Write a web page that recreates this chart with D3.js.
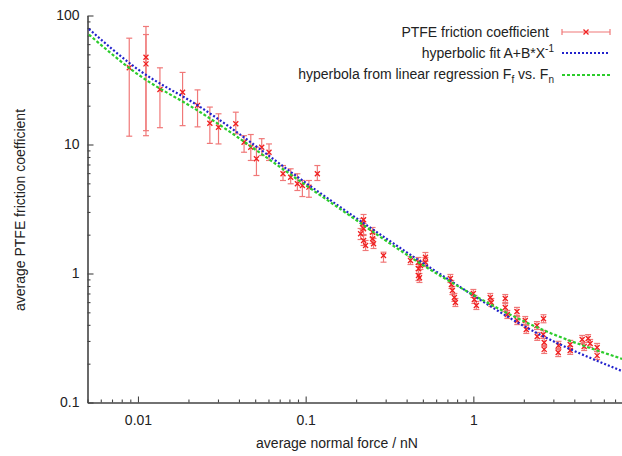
<!DOCTYPE html>
<html>
<head>
<meta charset="utf-8">
<script src="https://cdn.jsdelivr.net/npm/d3@7"></script>
<style>
  body { margin: 0; background: #fff; }
  text { font-family: "Liberation Sans", Arial, sans-serif; fill: #222; }
</style>
</head>
<body>
<script>
// measured points: average normal force (nN) and average friction coefficient
const force = [
  0.00887, 0.01116, 0.01116, 0.01352, 0.01845, 0.02266,
  0.02683, 0.03022, 0.03831, 0.04292, 0.04707, 0.05087, 0.0547, 0.06046,
  0.07326, 0.0814, 0.08925, 0.09559, 0.1046, 0.1174,
  0.2215, 0.2184, 0.2215, 0.2126, 0.2215, 0.2277, 0.2505, 0.2505, 0.254, 0.2912,
  0.4217, 0.4707, 0.4707, 0.4707, 0.4772, 0.5179, 0.5179, 0.4838,
  0.7297, 0.7398, 0.7499, 0.7707, 0.7814, 1.0, 1.014, 1.042, 1.262, 1.28,
  1.55, 1.55, 1.594, 1.82, 1.828, 2.04, 2.068, 2.394, 2.404,
  2.621, 2.61, 2.646, 2.646, 3.22, 3.206, 3.78, 3.78, 4.456, 4.58, 4.836, 4.971, 5.472, 5.472
];
const friction = [
  39.3, 47.5, 42.2, 26.7, 25.4, 20.1,
  14.6, 13.6, 14.5, 10.4, 9.53, 7.75, 9.53, 8.71,
  5.93, 5.58, 4.96, 4.81, 4.67, 5.93,
  2.608, 2.428, 2.221, 2.031, 1.803, 1.649, 2.09, 1.858, 1.7, 1.379,
  1.261, 1.224, 1.087, 0.965, 0.926, 1.338, 1.224, 1.153,
  0.915, 0.822, 0.738, 0.652, 0.596, 0.7, 0.629, 0.565, 0.652, 0.596,
  0.64, 0.545, 0.481, 0.508, 0.432, 0.432, 0.368, 0.395, 0.325,
  0.446, 0.337, 0.292, 0.258, 0.277, 0.244, 0.282, 0.253, 0.308, 0.272, 0.313, 0.287, 0.267, 0.231
];
const frictionLo = [
  11.6, 12.8, 11.7, 13.5, 14.0, 13.7,
  10.2, 10.1, 12.1, 8.71, 7.52, 5.75, 8.22, 7.52,
  5.26, 4.96, 4.40, 3.95, 3.90, 5.26,
  2.355, 2.193, 2.006, 1.834, 1.649, 1.508, 1.901, 1.709, 1.563, 1.224,
  1.174, 1.133, 1.0, 0.882, 0.852, 1.239, 1.133, 1.074,
  0.852, 0.765, 0.687, 0.607, 0.555, 0.652, 0.586, 0.526, 0.607, 0.555,
  0.596, 0.507, 0.448, 0.473, 0.402, 0.402, 0.343, 0.368, 0.303,
  0.415, 0.314, 0.272, 0.24, 0.258, 0.227, 0.262, 0.236, 0.287, 0.253, 0.292, 0.267, 0.249, 0.215
];
const frictionHi = [
  66.7, 82.2, 71.2, 39.3, 36.2, 26.5,
  19.5, 17.3, 17.8, 11.7, 11.95, 9.53, 11.1, 10.1,
  6.87, 6.48, 5.93, 5.26, 5.26, 6.87,
  2.867, 2.669, 2.441, 2.233, 1.97, 1.803, 2.273, 2.042, 1.868, 1.463,
  1.354, 1.331, 1.174, 1.055, 1.0, 1.455, 1.331, 1.239,
  0.983, 0.883, 0.793, 0.7, 0.64, 0.752, 0.676, 0.607, 0.7, 0.64,
  0.687, 0.585, 0.517, 0.546, 0.464, 0.464, 0.395, 0.424, 0.349,
  0.479, 0.362, 0.314, 0.277, 0.298, 0.262, 0.303, 0.272, 0.331, 0.292, 0.336, 0.308, 0.287, 0.248
];

// fit curves
const fitForce      = [0.0051, 0.0096, 0.0237, 0.123, 0.611, 2.34, 7.71];
const hyperbolicFit = [78.6, 39.7, 19.4, 4.17, 1.02, 0.351, 0.175];
const regressionFit = [71.2, 36.3, 17.7, 4.02, 0.99, 0.388, 0.218];

const xTicks = [0.01, 0.1, 1];
const yTicks = [0.1, 1, 10, 100];

const w = 622;
const h = 456;

const svg = d3.select("body")
              .append("svg")
              .attr("width", w)
              .attr("height", h);

const x = d3.scaleLog().domain([0.005, 7.7]).range([87.5, 622]);
const y = d3.scaleLog().domain([0.1, 100]).range([402.5, 15.5]);

const minorOf = (lo, hi) => {
  const out = [];
  for (let e = -3; e <= 1; e++) {
    for (let k = 2; k <= 9; k++) {
      const v = k * Math.pow(10, e);
      if (v >= lo && v <= hi) out.push(v);
    }
  }
  return out;
};

// axes
const styleAxis = g => {
  g.selectAll("path,line").attr("stroke", "#444").attr("stroke-width", 1.1);
  g.selectAll("text").attr("font-size", 14).attr("fill", "#222")
   .style("font-family", "'Liberation Sans', Arial, sans-serif");
};

svg.append("g")
   .attr("transform", "translate(0,402.5)")
   .call(d3.axisBottom(x).tickValues(minorOf(0.005, 7.7)).tickSize(-3).tickSizeOuter(0).tickFormat(""))
   .call(styleAxis);

svg.append("g")
   .attr("transform", "translate(0,402.5)")
   .call(d3.axisBottom(x).tickValues(xTicks).tickSize(-6).tickSizeOuter(0).tickPadding(13)
          .tickFormat(d => String(d)))
   .call(styleAxis);

svg.append("g")
   .attr("transform", "translate(87.5,0)")
   .call(d3.axisLeft(y).tickValues(minorOf(0.1, 100)).tickSize(-3).tickSizeOuter(0).tickFormat(""))
   .call(styleAxis);

svg.append("g")
   .attr("transform", "translate(87.5,0)")
   .call(d3.axisLeft(y).tickValues(yTicks).tickSize(-6).tickSizeOuter(0).tickPadding(8)
          .tickFormat(d => String(d)))
   .call(styleAxis);

svg.append("text")
   .attr("x", 337).attr("y", 448)
   .attr("text-anchor", "middle")
   .attr("font-size", 14)
   .text("average normal force / nN");

svg.append("text")
   .attr("transform", "translate(25,210) rotate(-90)")
   .attr("text-anchor", "middle")
   .attr("font-size", 14)
   .text("average PTFE friction coefficient");

// error bars
const pts = force.map((f, i) => ({ f: f, v: friction[i], lo: frictionLo[i], hi: frictionHi[i] }));
const errCol = "#f07878";
const bars = svg.append("g").attr("stroke", errCol).attr("stroke-width", 1.2);

bars.selectAll("line.v")
    .data(pts).enter().append("line")
    .attr("x1", d => x(d.f)).attr("x2", d => x(d.f))
    .attr("y1", d => y(d.lo)).attr("y2", d => y(d.hi));
bars.selectAll("line.lo")
    .data(pts).enter().append("line")
    .attr("x1", d => x(d.f) - 3).attr("x2", d => x(d.f) + 3)
    .attr("y1", d => y(d.lo)).attr("y2", d => y(d.lo));
bars.selectAll("line.hi")
    .data(pts).enter().append("line")
    .attr("x1", d => x(d.f) - 3).attr("x2", d => x(d.f) + 3)
    .attr("y1", d => y(d.hi)).attr("y2", d => y(d.hi));

const crossPath = (cx, cy, s) =>
  `M${cx - s},${cy - s}L${cx + s},${cy + s}M${cx - s},${cy + s}L${cx + s},${cy - s}`;

svg.append("g").selectAll("path")
   .data(pts).enter().append("path")
   .attr("d", d => crossPath(x(d.f), y(d.v), 2.5))
   .attr("stroke", "#f02020").attr("stroke-width", 1.3).attr("fill", "none");

// fit curves
svg.append("clipPath").attr("id", "plot")
   .append("rect").attr("x", 87.5).attr("y", 15.5).attr("width", 534.5).attr("height", 387);

const line = vals => d3.line()
  .x((d, i) => x(fitForce[i]))
  .y(d => y(d))
  .curve(d3.curveMonotoneX)(vals);

svg.append("path")
   .attr("clip-path", "url(#plot)")
   .attr("d", line(hyperbolicFit))
   .attr("fill", "none").attr("stroke", "#2222cc")
   .attr("stroke-width", 2.2).attr("stroke-dasharray", "2,2");

svg.append("path")
   .attr("clip-path", "url(#plot)")
   .attr("d", line(regressionFit))
   .attr("fill", "none").attr("stroke", "#2ccc2c")
   .attr("stroke-width", 2.2).attr("stroke-dasharray", "3,2");

// legend
const lg = svg.append("g").attr("font-size", 14);

lg.append("text").attr("x", 549).attr("y", 37).attr("text-anchor", "end")
  .text("PTFE friction coefficient");
lg.append("line").attr("x1", 562).attr("x2", 610).attr("y1", 32).attr("y2", 32)
  .attr("stroke", errCol).attr("stroke-width", 1.2);
[562, 610].forEach(cx => lg.append("line")
  .attr("x1", cx).attr("x2", cx).attr("y1", 29).attr("y2", 35)
  .attr("stroke", errCol).attr("stroke-width", 1.2));
lg.append("path").attr("d", crossPath(586, 32, 2.5))
  .attr("stroke", "#f02020").attr("stroke-width", 1.3);

const t2 = lg.append("text").attr("x", 554).attr("y", 58).attr("text-anchor", "end");
t2.append("tspan").text("hyperbolic fit A+B*X");
t2.append("tspan").attr("dy", -6).attr("font-size", 10).text("-1");
lg.append("line").attr("x1", 562).attr("x2", 610).attr("y1", 53).attr("y2", 53)
  .attr("stroke", "#2222cc").attr("stroke-width", 2.2).attr("stroke-dasharray", "2,2");

const t3 = lg.append("text").attr("x", 554).attr("y", 79).attr("text-anchor", "end");
t3.append("tspan").text("hyperbola from linear regression F");
t3.append("tspan").attr("dy", 4).attr("font-size", 10).text("f");
t3.append("tspan").attr("dy", -4).text(" vs. F");
t3.append("tspan").attr("dy", 4).attr("font-size", 10).text("n");
lg.append("line").attr("x1", 562).attr("x2", 610).attr("y1", 75).attr("y2", 75)
  .attr("stroke", "#2ccc2c").attr("stroke-width", 2.2).attr("stroke-dasharray", "3,2");
</script>
</body>
</html>
